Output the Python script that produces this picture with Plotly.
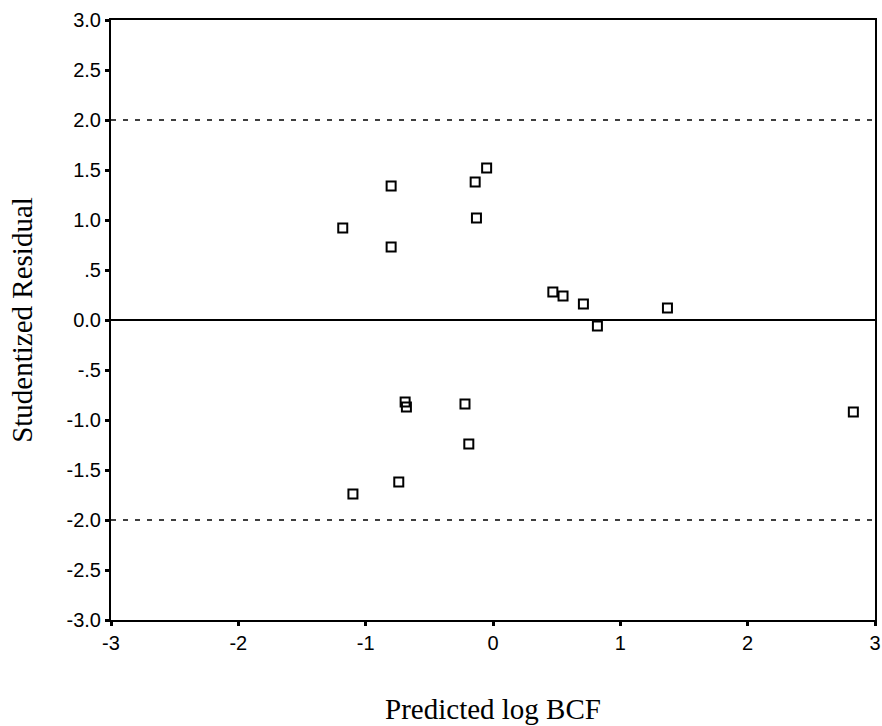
import plotly.graph_objects as go

predicted = [-1.18, -0.80, -0.80, -0.14, -0.05, -0.13, 0.47, 0.55, 0.71, 0.82, 1.37,
             -0.69, -0.68, -0.22, -0.19, -0.74, -1.10, 2.83]
residual = [0.92, 1.34, 0.73, 1.38, 1.52, 1.02, 0.28, 0.24, 0.16, -0.06, 0.12,
            -0.82, -0.87, -0.84, -1.24, -1.62, -1.74, -0.92]

y_ticks = [3.0, 2.5, 2.0, 1.5, 1.0, 0.5, 0.0, -0.5, -1.0, -1.5, -2.0, -2.5, -3.0]
y_labels = ["3.0", "2.5", "2.0", "1.5", "1.0", ".5", "0.0", "-.5", "-1.0", "-1.5", "-2.0", "-2.5", "-3.0"]
x_ticks = [-3, -2, -1, 0, 1, 2, 3]
ref_solid = [0.0]
ref_dashed = [2.0, -2.0]

fig = go.Figure()
fig.add_trace(go.Scatter(
    x=predicted, y=residual, mode="markers",
    marker=dict(symbol="square-open", size=9, color="black", line=dict(width=2, color="black")),
    showlegend=False, cliponaxis=False,
))

for yv in ref_solid:
    fig.add_shape(type="line", xref="paper", x0=0, x1=1, yref="y", y0=yv, y1=yv,
                  line=dict(color="black", width=1.8), layer="below")
for yv in ref_dashed:
    fig.add_shape(type="line", xref="paper", x0=0, x1=1, yref="y", y0=yv, y1=yv,
                  line=dict(color="black", width=1.5, dash="5px,7px"), layer="below")

axis_font = dict(family="Liberation Sans, Arial", size=20, color="black")
title_font = dict(family="Liberation Serif, Times New Roman", size=29, color="black")
fig.update_layout(
    width=882, height=726,
    margin=dict(l=111, r=7, t=20, b=106),
    plot_bgcolor="white", paper_bgcolor="white",
    xaxis=dict(range=[-3, 3], tickvals=x_ticks, ticktext=[str(v) for v in x_ticks],
               automargin=False,
               showgrid=False, zeroline=False, showline=True, linecolor="black", linewidth=2,
               mirror=True, ticks="outside", ticklen=4, tickwidth=3, tickcolor="black",
               tickfont=axis_font,
               title=dict(text="Predicted log BCF", font=title_font, standoff=46)),
    yaxis=dict(range=[-3, 3], tickvals=y_ticks, ticktext=y_labels,
               automargin=False,
               showgrid=False, zeroline=False, showline=True, linecolor="black", linewidth=2,
               mirror=True, ticks="outside", ticklen=4, tickwidth=3, tickcolor="black",
               tickfont=axis_font,
               title=dict(text="Studentized Residual", font=title_font, standoff=25)),
)

fig.write_html("out.html")
